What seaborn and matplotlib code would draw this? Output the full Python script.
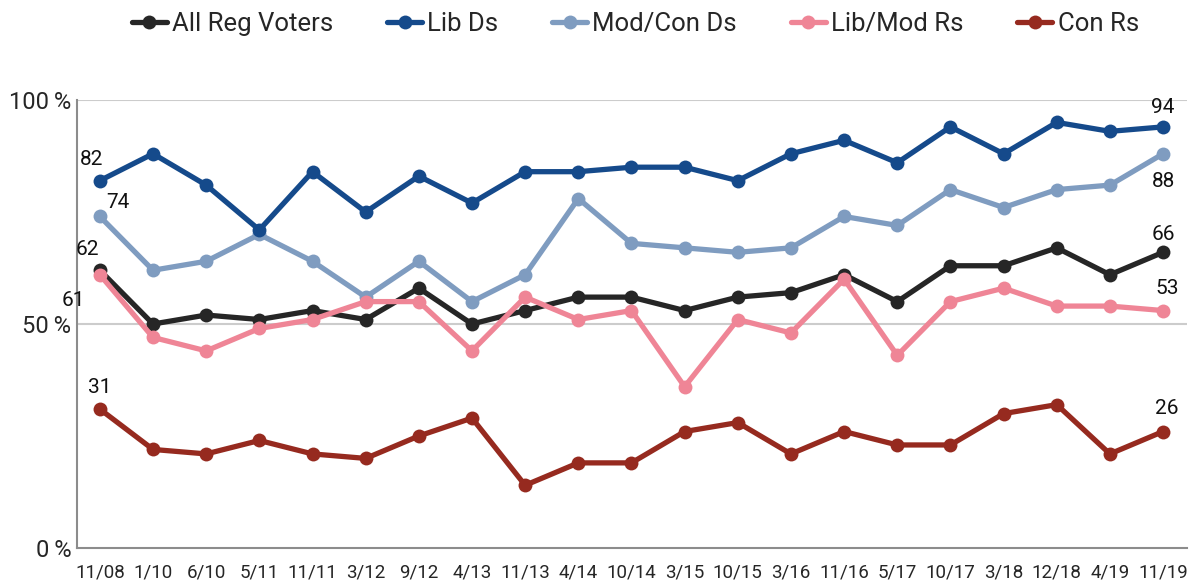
import pandas as pd
import seaborn as sns
import matplotlib.pyplot as plt

dates = ["11/08", "1/10", "6/10", "5/11", "11/11", "3/12", "9/12", "4/13", "11/13", "4/14",
         "10/14", "3/15", "10/15", "3/16", "11/16", "5/17", "10/17", "3/18", "12/18", "4/19", "11/19"]
all_reg = [62, 50, 52, 51, 53, 51, 58, 50, 53, 56, 56, 53, 56, 57, 61, 55, 63, 63, 67, 61, 66]
lib_ds = [82, 88, 81, 71, 84, 75, 83, 77, 84, 84, 85, 85, 82, 88, 91, 86, 94, 88, 95, 93, 94]
modcon_ds = [74, 62, 64, 70, 64, 56, 64, 55, 61, 78, 68, 67, 66, 67, 74, 72, 80, 76, 80, 81, 88]
libmod_rs = [61, 47, 44, 49, 51, 55, 55, 44, 56, 51, 53, 36, 51, 48, 60, 43, 55, 58, 54, 54, 53]
con_rs = [31, 22, 21, 24, 21, 20, 25, 29, 14, 19, 19, 26, 28, 21, 26, 23, 23, 30, 32, 21, 26]

series = {
    "All Reg Voters": all_reg,
    "Lib Ds": lib_ds,
    "Mod/Con Ds": modcon_ds,
    "Lib/Mod Rs": libmod_rs,
    "Con Rs": con_rs,
}
colors = {
    "All Reg Voters": "#262626",
    "Lib Ds": "#154a8b",
    "Mod/Con Ds": "#7f9cc0",
    "Lib/Mod Rs": "#ef8596",
    "Con Rs": "#962a1f",
}

rows = []
for name, vals in series.items():
    for i, v in enumerate(vals):
        rows.append({"pos": i, "date": dates[i], "group": name, "value": v})
df = pd.DataFrame(rows)

sns.set_style("white")
plt.rcParams['font.family'] = ['Roboto', 'DejaVu Sans']

fig = plt.figure(figsize=(11.95, 5.83), dpi=100)
ax = fig.add_axes([77 / 1195, 35 / 583, 1110 / 1195, 448 / 583])

# draw order: pink under black like the original
order = ["Con Rs", "Mod/Con Ds", "Lib Ds", "All Reg Voters", "Lib/Mod Rs"]
for name in order:
    sub = df[df["group"] == name]
    sns.lineplot(data=sub, x="pos", y="value", color=colors[name], ax=ax,
                 linewidth=3.8, marker="o", markersize=10, markeredgewidth=0,
                 sort=False, label=name)

ax.set_xlim(-0.43, 20.45)
ax.set_ylim(0, 100)
ax.set_xticks(range(len(dates)))
ax.set_xticklabels(dates, fontsize=13.5)
ax.set_yticks([0, 50, 100])
ax.set_yticklabels(["0\u2009%", "50\u2009%", "100\u2009%"], fontsize=17)
ax.set_xlabel("")
ax.set_ylabel("")
ax.tick_params(axis="x", direction="out", length=5, width=1, color="#999999", pad=6)
ax.tick_params(axis="y", length=0, pad=4)
for y in [50, 100]:
    ax.axhline(y, color="#cccccc", linewidth=1.5, zorder=0)
for s in ["top", "right"]:
    ax.spines[s].set_visible(False)
for s in ["left", "bottom"]:
    ax.spines[s].set_color("#8c8c8c")
    ax.spines[s].set_linewidth(1.5)

# end labels (offsets in pixels)
labels = [
    ("Lib Ds", 0, -8, 21), ("Mod/Con Ds", 0, 18, 14), ("All Reg Voters", 0, -12, 21),
    ("Lib/Mod Rs", 0, -26, -26), ("Con Rs", 0, 0, 22),
    ("Lib Ds", 20, 0, 19), ("Mod/Con Ds", 20, 0, -28), ("All Reg Voters", 20, 0, 18),
    ("Lib/Mod Rs", 20, 4, 22), ("Con Rs", 20, 4, 23),
]
for name, i, dx, dy in labels:
    v = series[name][i]
    ax.annotate(str(v), (i, v), xytext=(dx, dy), textcoords="offset pixels",
                ha="center", va="center", fontsize=15, color="#111111")

handles, labs = ax.get_legend_handles_labels()
hmap = dict(zip(labs, handles))
legend_order = ["All Reg Voters", "Lib Ds", "Mod/Con Ds", "Lib/Mod Rs", "Con Rs"]
ax.legend([hmap[n] for n in legend_order], legend_order, loc="center",
          bbox_to_anchor=(0.503, 1.17), ncol=5, frameon=False, fontsize=18.5,
          handlelength=1.36, handletextpad=0.2, columnspacing=2.1)

fig.savefig("out.png", dpi=100)
